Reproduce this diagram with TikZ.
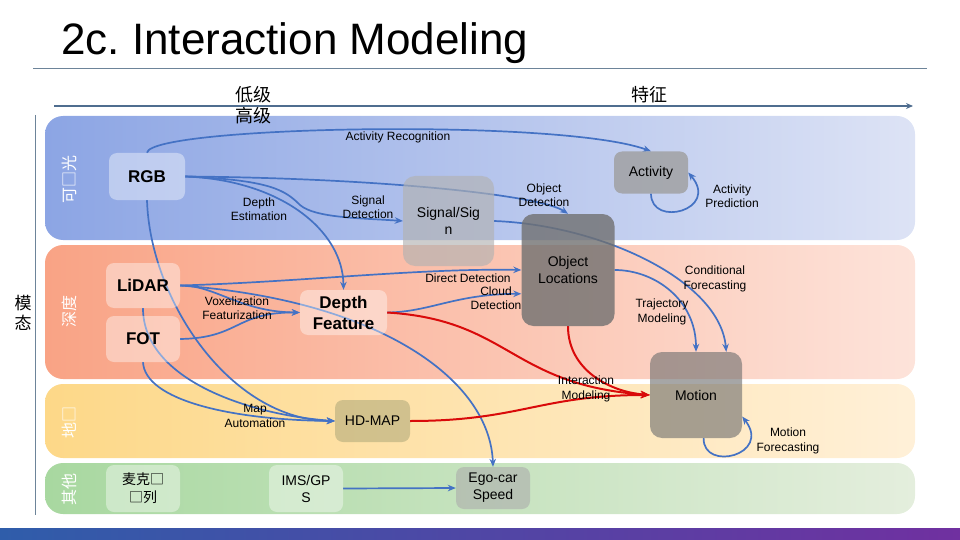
\documentclass[tikz,border=0pt]{standalone}
\usepackage{fontspec}
\setmainfont{Liberation Sans}
\newfontfamily\cjk{Noto Sans CJK SC}
\usepackage{tikz}
\usetikzlibrary{positioning,arrows.meta,calc}
\frenchspacing
\definecolor{edgeblue}{HTML}{4472C4}
\definecolor{edgered} {HTML}{D90A0A}
\definecolor{rule}    {HTML}{6D8499}
\definecolor{axis}    {HTML}{4F6D8F}
\definecolor{visL}{HTML}{8CA5E4} \definecolor{visR}{HTML}{DDE3F5}
\definecolor{depL}{HTML}{F9A385} \definecolor{depR}{HTML}{FDE3DA}
\definecolor{mapL}{HTML}{FDD888} \definecolor{mapR}{HTML}{FFF0D8}
\definecolor{othL}{HTML}{A8D8A0} \definecolor{othR}{HTML}{E4EEDD}
\definecolor{barL}{HTML}{2F5DAA} \definecolor{barR}{HTML}{7030A0}
\pgfdeclarelayer{background}
\pgfdeclarelayer{edges}
\pgfsetlayers{background,edges,main}
\tikzset{
  every node/.style={font=\fontsize{12}{14.5}\selectfont},
  % --- nodes
  mod/.style   = {rounded corners=8pt, fill=white, fill opacity=0.4, text opacity=1,
                  align=center, inner sep=0pt, font=\bfseries\fontsize{17}{21}\selectfont},
  small/.style = {mod, font=\fontsize{14}{17}\selectfont},
  tint/.style  = {small, fill=#1, fill opacity=0.65},
  lbl/.style   = {font=\fontsize{12}{14.5}\selectfont, align=center, inner sep=0pt},
  side/.style  = {font=\cjk\fontsize{16}{16}\selectfont, text=white, inner sep=0pt, rotate=90},
  band/.style  = {rounded corners=18pt},
  % --- edges
  e/.style     = {-{Stealth[length=8pt,width=6.5pt]}, line width=1.7pt, draw=edgeblue},
  er/.style    = {-{Stealth[length=9pt,width=7pt]}, line width=2pt, draw=edgered},
}
\begin{document}
\begin{tikzpicture}[x=1pt,y=-1pt]
  \useasboundingbox (0,0) rectangle (960,540);
  % --- bands and frame
  \begin{pgfonlayer}{background}
    \shade[band, left color=visL, right color=visR] (45,116) rectangle (915,240);
    \shade[band, left color=depL, right color=depR] (45,245) rectangle (915,379);
    \shade[band, left color=mapL, right color=mapR] (45,384) rectangle (915,458);
    \shade[band, left color=othL, right color=othR] (45,463) rectangle (915,514);
    \shade[left color=barL, right color=barR] (0,528) rectangle (960,540);
    \draw[rule, line width=1pt] (33,69) -- (927,69);
    \draw[rule, line width=1pt] (35,115) -- (35,515);
    \draw[axis, line width=1.5pt, -{Stealth[length=7pt,width=6pt]}] (54,106) -- (913,106);
  \end{pgfonlayer}

  \node[anchor=base west, inner sep=0pt, font=\fontsize{44}{48}\selectfont] (title) at (61,55) {2c. Interaction Modeling};
  \node[font=\cjk\fontsize{18}{18}\selectfont, inner sep=0pt] (low) at (253,95) {低级};
  \node[font=\cjk\fontsize{18}{18}\selectfont, inner sep=0pt] (high) at (253,116) {高级};
  \node[font=\cjk\fontsize{18}{18}\selectfont, inner sep=0pt] (feat) at (649,95) {特征};
  \node[font=\cjk\fontsize{17}{20}\selectfont, align=center, inner sep=0pt] (modal) at (23,313) {模\\态};
  \node[side] (vis) at (69,179) {可□光};
  \node[side] (dep) at (69,311) {深度};
  \node[side] (map) at (69,422) {地□};
  \node[side] (oth) at (69,489) {其他};

  % --- modules
  \node[mod, minimum width=76pt, minimum height=47pt] (rgb) at (147,176.5) {RGB};
  \node[mod, minimum width=74pt, minimum height=45pt] (lidar) at (143,285.5) {LiDAR};
  \node[mod, minimum width=74pt, minimum height=46pt] (fot) at (143,339) {FOT};
  \node[mod, minimum width=87pt, minimum height=45pt] (depthf) at (343.5,312.5) {Depth\\Feature};
  \node[tint=gray!60, minimum width=91pt, minimum height=90pt, rounded corners=12pt] (sign) at (448.5,221) {Signal/Sig\\n};
  \node[tint=black!38, fill opacity=0.8, minimum width=74pt, minimum height=42pt] (activity) at (651,172.5) {Activity};
  \node[tint=black!56, fill opacity=0.8, minimum width=93pt, minimum height=112pt, rounded corners=12pt] (objloc) at (568,270) {Object\\Locations};
  \node[tint=black!56, fill opacity=0.62, minimum width=92pt, minimum height=86pt, rounded corners=12pt] (motion) at (696,395) {Motion};
  \node[tint=black!25!yellow!40!gray, fill opacity=0.5, minimum width=75pt, minimum height=42pt] (hdmap) at (372.5,421) {HD-MAP};
  \node[small, minimum width=74pt, minimum height=47pt, font=\cjk\fontsize{14}{18}\selectfont] (mic) at (143,488.5) {麦克□\\□列};
  \node[small, minimum width=74pt, minimum height=47pt] (imsgps) at (306,488.5) {IMS/GP\\S};
  \node[tint=gray!65, fill opacity=0.6, minimum width=74pt, minimum height=42pt] (egocar) at (493,488) {Ego-car\\Speed};

  % --- labels
  \node[lbl] (l-actrec) at (398,137) {Activity Recognition};
  \node[lbl] (l-depest) at (259,209) {Depth\\Estimation};
  \node[lbl] (l-sigdet) at (368,207) {Signal\\Detection};
  \node[lbl] (l-objdet) at (544,195) {Object\\Detection};
  \node[lbl] (l-actpre) at (732,196) {Activity\\Prediction};
  \node[lbl] (l-direct) at (468,278) {Direct Detection};
  \node[lbl] (l-cloud)  at (496,298) {Cloud\\Detection};
  \node[lbl] (l-voxel)  at (237,308) {Voxelization\\Featurization};
  \node[lbl] (l-cond)   at (715,279) {Conditional\\Forecasting};
  \node[lbl] (l-traj)   at (662,312) {Trajectory\\Modeling};
  \node[lbl] (l-inter)  at (586,389) {Interaction\\Modeling};
  \node[lbl] (l-mapaut) at (255,416) {Map\\Automation};
  \node[lbl] (l-motfor) at (788,441) {Motion\\Forecasting};

  % --- connectors (under the modules)
  \begin{pgfonlayer}{edges}
    \draw[e] (rgb.north) .. controls (150,126) and (560,118) .. (activity.north);
    \draw[e] (rgb.east) .. controls (270,180) and (285,190) .. (300,205)
                        .. controls (315,218) and (360,218) .. (sign.west);
    \draw[e] (rgb.east) .. controls (280,180) and (343,230) .. (depthf.north);
    \draw[e] (rgb.east) .. controls (380,178) and (540,195) .. (objloc.north);
    \draw[e] (rgb.south) .. controls (150,300) and (230,420) .. (hdmap.west);
    \draw[e] (sign.east) .. controls (600,225) and (720,280) .. (motion.55);
    \draw[e] (activity.south) .. controls (651,228) and (720,210) .. (activity.east);
    \draw[e] (lidar.east) .. controls (300,282) and (420,268) .. (objloc.west);
    \draw[e] (lidar.east) .. controls (215,285) and (240,312) .. (depthf.west);
    \draw[e] (lidar.east) .. controls (380,300) and (490,380) .. (egocar.north);
    \draw[e] (lidar.south) .. controls (143,380) and (250,415) .. (hdmap.west);
    \draw[e] (fot.east) .. controls (240,338) and (235,312) .. (depthf.west);
    \draw[e] (fot.south) .. controls (145,400) and (230,420) .. (hdmap.west);
    \draw[e] (depthf.east) .. controls (430,312) and (455,294) .. (objloc.207);
    \draw[e] (objloc.east) .. controls (655,270) and (696,300) .. (motion.north);
    \draw[e] (imsgps.east) -- (egocar.west);
    \draw[e] (motion.-80) .. controls (703,472) and (772,455) .. (motion.-25);
    \draw[er] (depthf.east) .. controls (510,320) and (510,385) .. (motion.west);
    \draw[er] (hdmap.east) .. controls (520,421) and (540,395) .. (motion.west);
    \draw[er] (objloc.south) .. controls (568,370) and (610,392) .. (motion.west);
  \end{pgfonlayer}
\end{tikzpicture}
\end{document}
